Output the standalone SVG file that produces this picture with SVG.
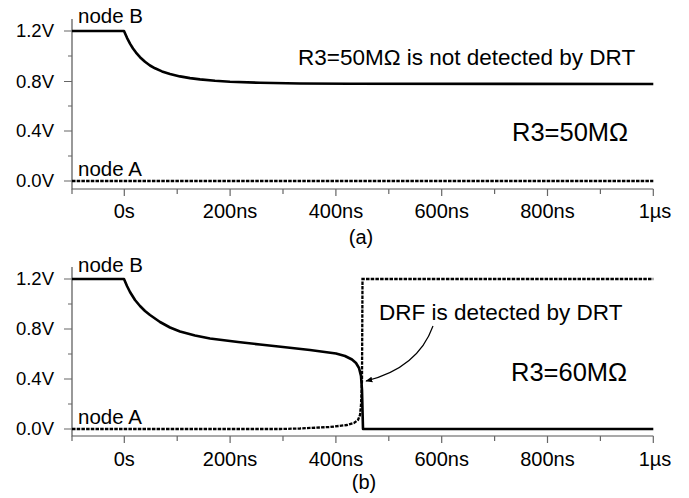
<svg xmlns="http://www.w3.org/2000/svg" width="689" height="498" viewBox="0 0 689 498">
<style>
text{font-family:"Liberation Sans",Arial,sans-serif;fill:#000}
.yl{font-size:18.5px;text-anchor:end}
.xl{font-size:20px;text-anchor:middle}
.nl{font-size:20.5px}
.ann{font-size:22.5px}
.big{font-size:25.5px}
.cap{font-size:20px;text-anchor:middle}
.axis{stroke:#555;stroke-width:1.2;fill:none}
.tick{stroke:#666;stroke-width:1.2;fill:none}
.nodeB{stroke:#000;stroke-width:2.6;fill:none;stroke-linejoin:round}
.nodeA{stroke:#000;stroke-width:2.3;fill:none;stroke-dasharray:3.5 1.2}
.lead{stroke:#000;stroke-width:1.2;fill:none}
</style>
<defs>
<marker id="ah" viewBox="0 0 10 10" refX="9" refY="5" markerWidth="7" markerHeight="7" orient="auto" markerUnits="userSpaceOnUse">
<path d="M0,1 L10,5 L0,9 Z" fill="#000"/>
</marker>
</defs>

<g id="panel-a">
<g id="axes-a">
<path class="axis" d="M72,19 V189 H653.3"/>
<path class="tick" d="M64,31 H72 M68,56 H72 M64,81.5 H72 M68,106 H72 M64,131 H72 M68,156 H72 M64,181 H72"/>
<path class="tick" d="M72,189 V194 M124.3,189 V196 M177.2,189 V194 M230.1,189 V196 M283,189 V194 M335.9,189 V196 M388.8,189 V194 M441.7,189 V196 M494.6,189 V194 M547.5,189 V196 M600.4,189 V194 M653.3,189 V196"/>
<text class="yl" x="54" y="37">1.2V</text>
<text class="yl" x="54" y="87.5">0.8V</text>
<text class="yl" x="54" y="137">0.4V</text>
<text class="yl" x="54" y="187">0.0V</text>
<text class="xl" x="124.3" y="218">0s</text>
<text class="xl" x="230.1" y="218">200ns</text>
<text class="xl" x="335.9" y="218">400ns</text>
<text class="xl" x="441.7" y="218">600ns</text>
<text class="xl" x="547.5" y="218">800ns</text>
<text class="xl" x="655" y="218">1µs</text>
</g>
<g id="curve-a-nodeB">
<path class="nodeB" d="M72,31 H124 L127,37.8 L130,43.6 L133,48.5 L136,52.6 L140,57.2 L145,61.8 L150,65.5 L155,68.3 L162,71.4 L170,74 L180,76.4 L190,78.1 L200,79.4 L215,80.8 L230,81.7 L260,82.8 L300,83.5 L350,83.8 L653.3,84"/>
<text class="nl" x="78" y="23">node B</text>
</g>
<g id="curve-a-nodeA">
<path class="nodeA" d="M72,181 H653.3"/>
<text class="nl" x="78" y="176">node A</text>
</g>
<text class="ann" x="298" y="65">R3=50MΩ is not detected by DRT</text>
<text class="big" x="512" y="140.7">R3=50MΩ</text>
<text class="cap" x="361" y="244">(a)</text>
</g>

<g id="panel-b">
<g id="axes-b">
<path class="axis" d="M72,267 V436 H653.3"/>
<path class="tick" d="M64,279 H72 M68,304 H72 M64,329 H72 M68,354 H72 M64,379 H72 M68,404 H72 M64,429 H72"/>
<path class="tick" d="M72,436 V441 M124.3,436 V443 M177.2,436 V441 M230.1,436 V443 M283,436 V441 M335.9,436 V443 M388.8,436 V441 M441.7,436 V443 M494.6,436 V441 M547.5,436 V443 M600.4,436 V441 M653.3,436 V443"/>
<text class="yl" x="54" y="285">1.2V</text>
<text class="yl" x="54" y="335">0.8V</text>
<text class="yl" x="54" y="385">0.4V</text>
<text class="yl" x="54" y="435">0.0V</text>
<text class="xl" x="124.3" y="466">0s</text>
<text class="xl" x="230.1" y="466">200ns</text>
<text class="xl" x="335.9" y="466">400ns</text>
<text class="xl" x="441.7" y="466">600ns</text>
<text class="xl" x="547.5" y="466">800ns</text>
<text class="xl" x="655" y="466">1µs</text>
</g>
<g id="curve-b-nodeB">
<path class="nodeB" d="M72,279 H124 L127,286 L130,292 L135,300 L140,306 L145,311 L150,315 L160,322 L170,327.5 L180,331.5 L195,335.5 L210,338.5 L238,342 L260,344.5 L283,347 L310,350 L336,353.5 L345,356 L352,359.5 L356,363 L359,368 L361,376 L362,390 L362.5,410 L363,429 H653.3"/>
<text class="nl" x="78" y="272">node B</text>
</g>
<g id="curve-b-nodeA">
<path class="nodeA" d="M72,429 H280 L300,428.5 L330,427 L347,425 L354,423 L358,420 L360,415 L361,405 L362,380 L362.5,279 H653.3"/>
<text class="nl" x="78" y="424">node A</text>
</g>
<text class="ann" x="379" y="320">DRF is detected by DRT</text>
<text class="big" x="511" y="381">R3=60MΩ</text>
<text class="cap" x="364" y="489">(b)</text>
</g>

<g id="connectors">
<path class="lead" d="M433,326 Q418,368 366,381" marker-end="url(#ah)"/>
</g>
</svg>
